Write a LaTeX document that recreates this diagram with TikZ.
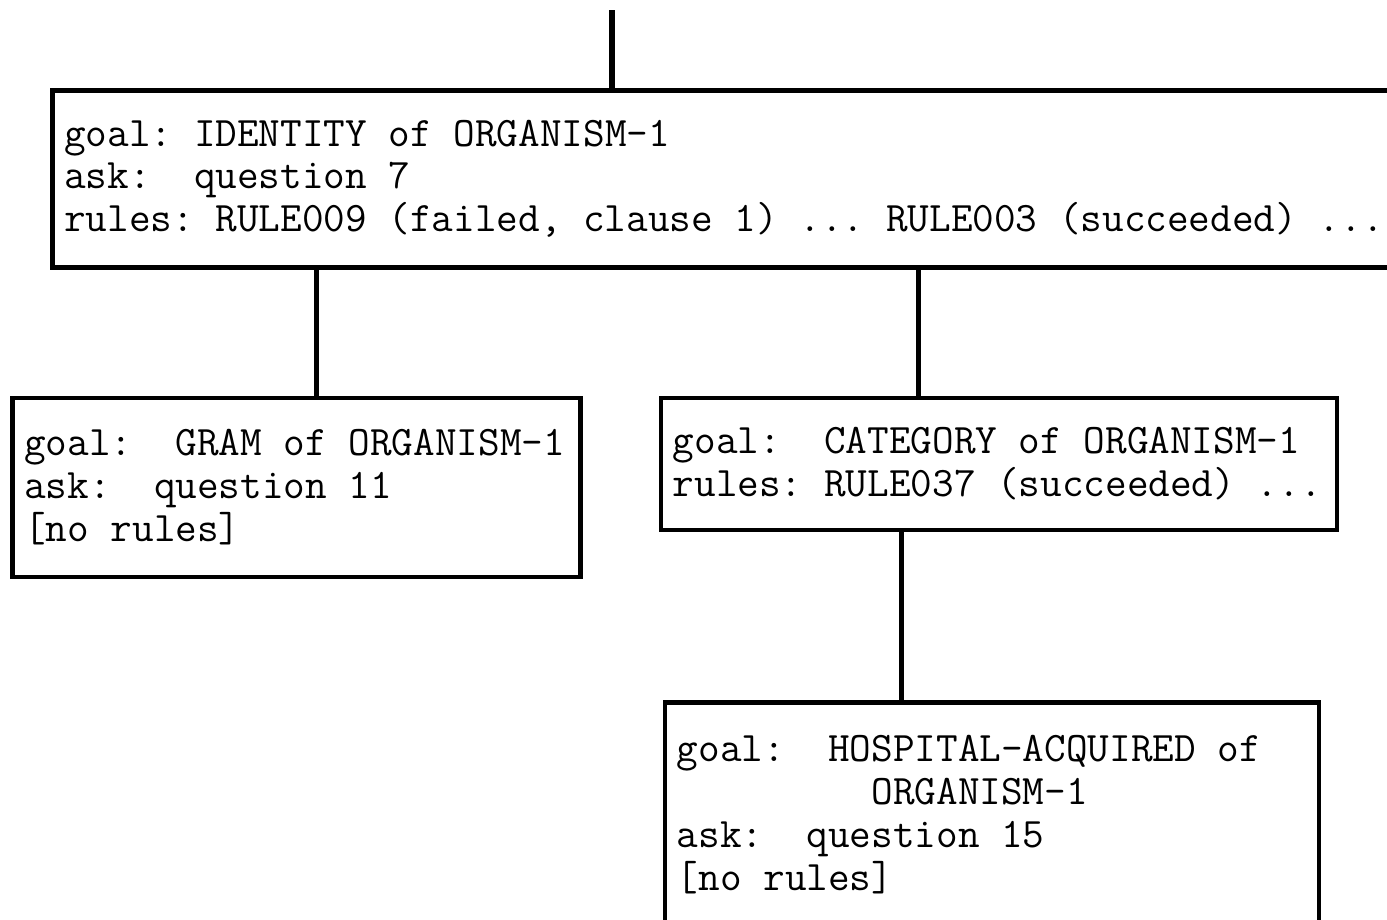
\documentclass[tikz,border=0pt]{standalone}
\usetikzlibrary{positioning}
\newcommand{\monospaces}{\spaceskip=\fontcharwd\font 120\relax\xspaceskip=\spaceskip}

\begin{document}
\begin{tikzpicture}[
    node distance=1cm,
    goalbox/.style={draw=black, line width=1.3pt, rectangle, inner xsep=0.12cm, inner ysep=0pt, align=left,
        font=\ttfamily\fontsize{11.95pt}{12.2pt}\selectfont, execute at begin node=\monospaces},
    link/.style={draw=black, line width=1.5pt}
]
\useasboundingbox (0,0) rectangle (13.87,-9.20);
\clip (0,0) rectangle (13.87,-9.20);

\node[goalbox, text width=13.76cm, minimum height=1.77cm, anchor=north west] (1) at (0.50,-0.88) {goal: IDENTITY of ORGANISM-1\\ ask:\ \ question 7\\ rules: RULE009 (failed, clause 1) ... RULE003 (succeeded) ...};
\node[goalbox, text width=5.44cm, minimum height=1.79cm, below=1.26cm of 1.south west, anchor=north west, xshift=-0.40cm] (2) {goal:\ \ GRAM of ORGANISM-1\\ ask:\ \ question 11\\ {[no rules]}};
\node[goalbox, text width=6.52cm, minimum height=1.32cm, right=0.76cm of 2.north east, anchor=north west] (3) {goal:\ \ CATEGORY of ORGANISM-1\\ rules: RULE037 (succeeded) ...};
\node[goalbox, text width=6.30cm, minimum height=2.25cm, below=1.68cm of 3.south west, anchor=north west, xshift=0.04cm] (4) {goal:\ \ HOSPITAL-ACQUIRED of\\ ~~~~~~~~~ORGANISM-1\\ ask:\ \ question 15\\ {[no rules]}};

\coordinate (top) at (6.12,-0.10);
\coordinate (a2) at ([xshift=0.20cm]2.north);
\coordinate (a3) at ([xshift=-0.80cm]3.north);
\coordinate (a4) at ([xshift=-0.90cm]4.north);

\draw[link] (top) -- (top |- 1.north);
\draw[link] (a2 |- 1.south) -- (a2);
\draw[link] (a3 |- 1.south) -- (a3);
\draw[link] (a4 |- 3.south) -- (a4);
\end{tikzpicture}
\end{document}
